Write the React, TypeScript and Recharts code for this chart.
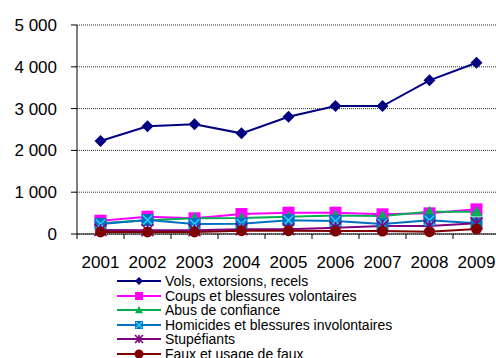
import React from 'react';
import { LineChart, Line, XAxis, YAxis, CartesianGrid } from 'recharts';

const YEARS = ['2001', '2002', '2003', '2004', '2005', '2006', '2007', '2008', '2009'];

const VOLS = [2225, 2577, 2624, 2408, 2806, 3062, 3062, 3677, 4098];
const COUPS = [318, 414, 375, 478, 510, 510, 471, 494, 590];
const ABUS = [255, 330, 375, 380, 415, 440, 430, 530, 535];
const HOMICIDES = [240, 335, 240, 245, 330, 310, 240, 330, 255];
const STUPEFIANTS = [95, 90, 90, 115, 115, 150, 190, 190, 255];
const FAUX = [50, 50, 50, 80, 80, 70, 70, 55, 120];

const Y_TICKS = [0, 1000, 2000, 3000, 4000, 5000];

const FONT = 'Arial, "Liberation Sans", sans-serif';

const SERIES = [
  { key: 'vols', name: 'Vols, extorsions, recels', color: '#000080', shape: 'diamond', values: VOLS },
  { key: 'coups', name: 'Coups et blessures volontaires', color: '#ff00ff', shape: 'square', values: COUPS },
  { key: 'abus', name: 'Abus de confiance', color: '#00b050', shape: 'triangle', values: ABUS },
  { key: 'homicides', name: 'Homicides et blessures involontaires', color: '#0070c0', shape: 'xsquare', values: HOMICIDES },
  { key: 'stup', name: 'Stupéfiants', color: '#800080', shape: 'star', values: STUPEFIANTS },
  { key: 'faux', name: 'Faux et usage de faux', color: '#800000', shape: 'circle', values: FAUX },
];

const data = YEARS.map((year, i) => {
  const row: Record<string, any> = { year };
  SERIES.forEach(s => { row[s.key] = s.values[i]; });
  return row;
});

// draws a marker of the given shape centred on cx, cy
const Marker = ({ shape, color, cx, cy, r }: { shape: string; color: string; cx: number; cy: number; r: number }) => {
  switch (shape) {
    case 'diamond':
      return <polygon points={`${cx},${cy - r} ${cx + r},${cy} ${cx},${cy + r} ${cx - r},${cy}`} fill={color} />;
    case 'square':
      return <rect x={cx - r} y={cy - r} width={r * 2} height={r * 2} fill={color} />;
    case 'triangle':
      return <polygon points={`${cx},${cy - r} ${cx + r},${cy + r * 0.8} ${cx - r},${cy + r * 0.8}`} fill={color} />;
    case 'xsquare':
      return (
        <g>
          <rect x={cx - r} y={cy - r} width={r * 2} height={r * 2} fill={color} />
          <path d={`M${cx - r * 0.8},${cy - r * 0.8}L${cx + r * 0.8},${cy + r * 0.8}M${cx + r * 0.8},${cy - r * 0.8}L${cx - r * 0.8},${cy + r * 0.8}`} stroke="#33ccff" strokeWidth={1.5} />
        </g>
      );
    case 'star':
      return (
        <path
          d={`M${cx - r},${cy - r}L${cx + r},${cy + r}M${cx + r},${cy - r}L${cx - r},${cy + r}M${cx},${cy - r}L${cx},${cy + r}`}
          stroke={color}
          strokeWidth={1.6}
        />
      );
    default:
      return <circle cx={cx} cy={cy} r={r} fill={color} />;
  }
};

const YearTick = (props: any) => {
  const { x, y, payload } = props;
  return (
    <g>
      <line x1={x - 23.5} y1={y - 22} x2={x - 23.5} y2={y - 17} stroke="#000" />
      <text x={x} y={y} dy={12} textAnchor="middle" fontSize={17} fontFamily={FONT} fill="#000">
        {payload.value}
      </text>
    </g>
  );
};

const formatThousands = (v: number) => (v === 0 ? '0' : `${Math.floor(v / 1000)} ${String(v % 1000).padStart(3, '0')}`);

export default function App() {
  return (
    <div style={{ position: 'absolute', left: 0, top: 0, width: 496, height: 358, overflow: 'hidden', background: '#fff' }}>
      <LineChart width={500} height={280} data={data} margin={{ top: 25, right: 0, left: 0, bottom: 0 }}>
        <CartesianGrid vertical={false} stroke="#333" strokeDasharray="1 1" />
        <XAxis
          dataKey="year"
          scale="band"
          height={46}
          axisLine={{ stroke: '#000' }}
          tickLine={false}
          tickSize={0}
          tickMargin={22}
          interval={0}
          tick={<YearTick />}
        />
        <YAxis
          width={77}
          domain={[0, 5000]}
          ticks={Y_TICKS}
          interval={0}
          tickFormatter={formatThousands}
          axisLine={{ stroke: '#000' }}
          tickLine={{ stroke: '#000' }}
          tickSize={6}
          tickMargin={14}
          tick={{ fontSize: 17, fontFamily: FONT, fill: '#000' }}
        />
        {SERIES.map(s => (
          <Line
            key={s.key}
            dataKey={s.key}
            name={s.name}
            stroke={s.color}
            strokeWidth={2}
            isAnimationActive={false}
            dot={(p: any) => (
              <Marker key={`${s.key}-${p.index}`} shape={s.shape} color={s.color} cx={p.cx} cy={p.cy} r={s.shape === 'circle' ? 5.5 : 6} />
            )}
          />
        ))}
      </LineChart>
      <div style={{ position: 'absolute', left: 117, top: 274, fontFamily: FONT, fontSize: 14, lineHeight: '14.5px', color: '#000' }}>
        {SERIES.map(s => (
          <div key={s.key} style={{ display: 'flex', alignItems: 'center', height: 14.5, whiteSpace: 'nowrap' }}>
            <svg width={46} height={14} style={{ marginRight: 2 }}>
              <line x1={0} y1={7} x2={44} y2={7} stroke={s.color} strokeWidth={2} />
              <Marker shape={s.shape} color={s.color} cx={22} cy={7} r={s.shape === 'circle' ? 4.5 : 4} />
            </svg>
            <span>{s.name}</span>
          </div>
        ))}
      </div>
    </div>
  );
}
